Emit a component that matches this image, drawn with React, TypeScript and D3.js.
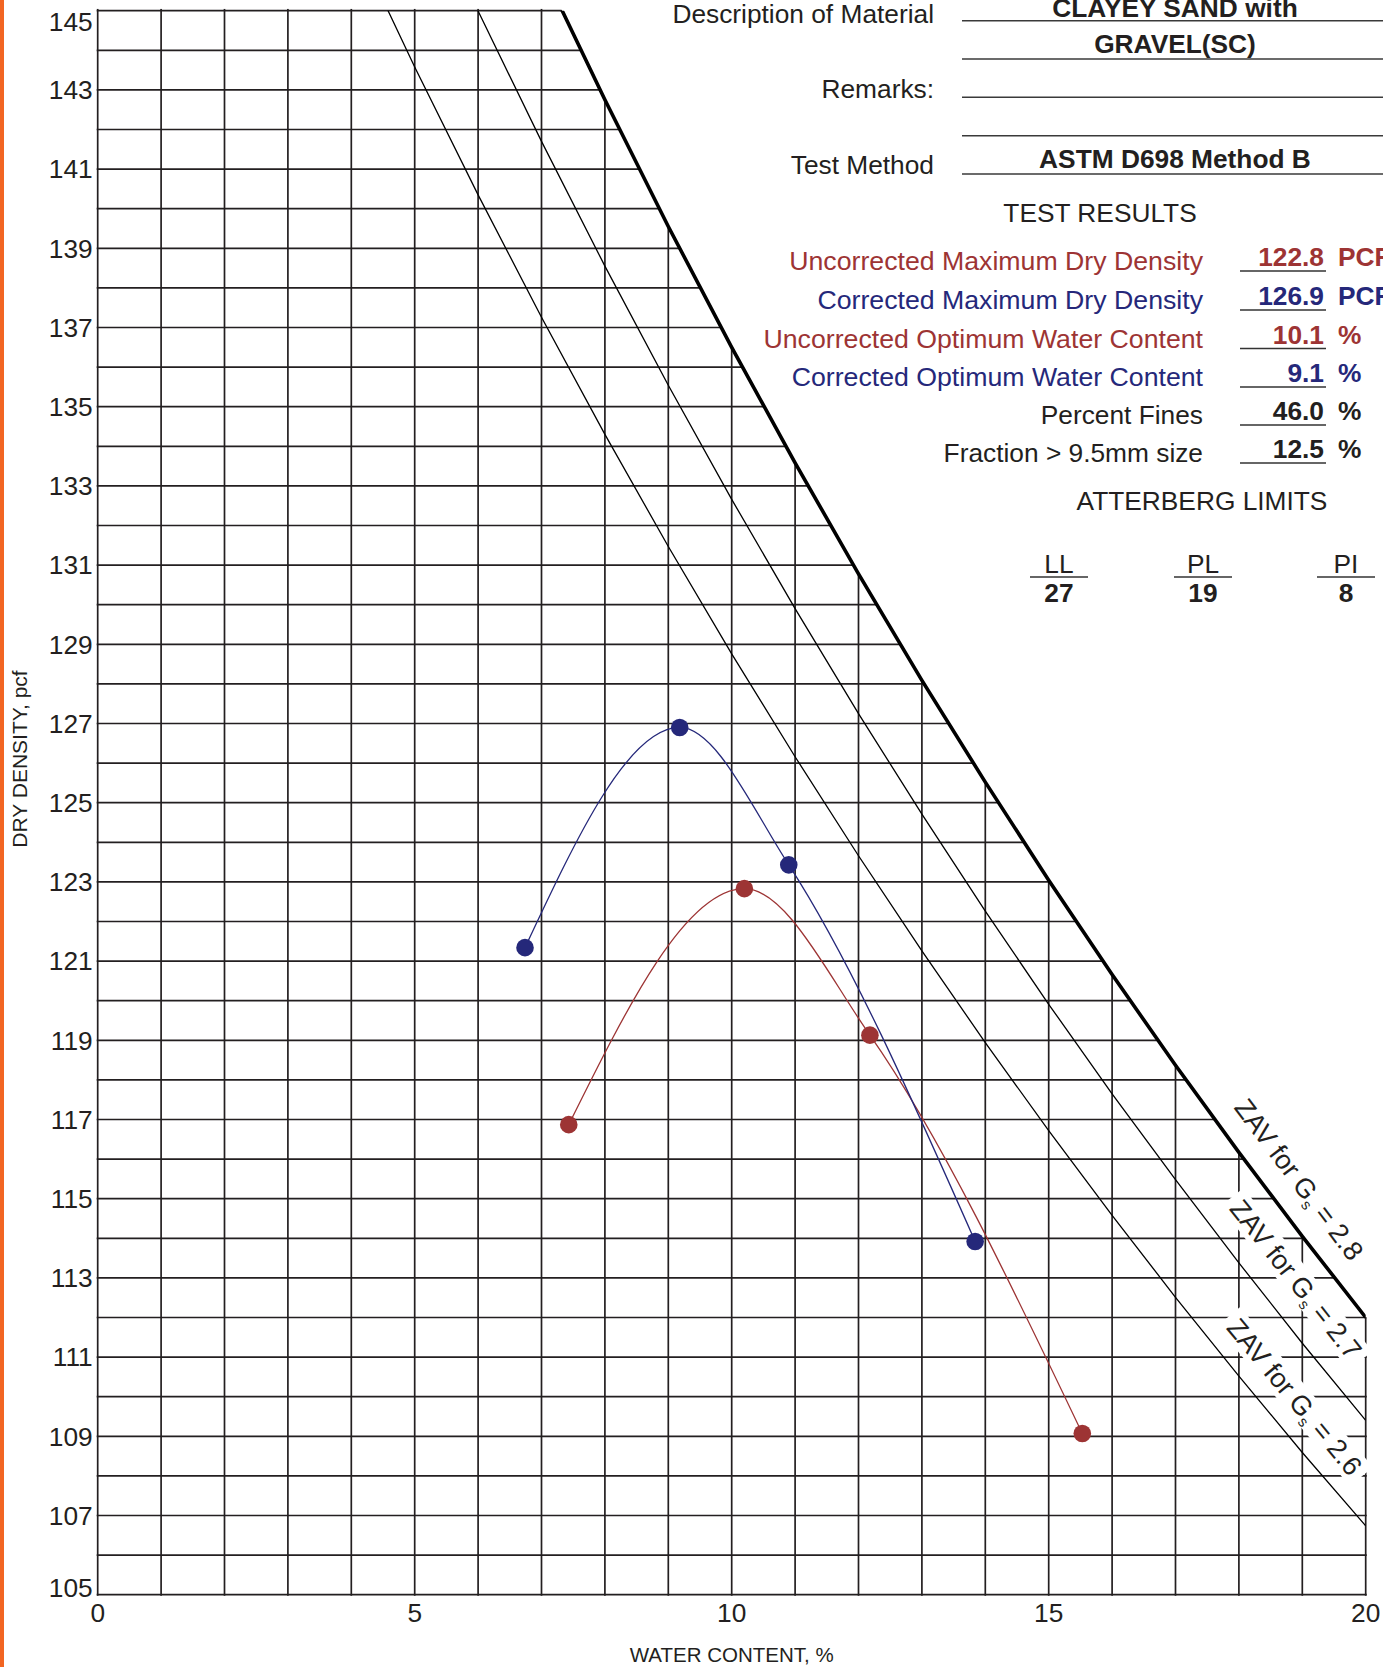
import React from 'react';
import * as d3 from 'd3';

const WIDTH = 1383;
const HEIGHT = 1667;

// ---- axes ----
const X_DOMAIN = [0, 20];
const Y_DOMAIN = [105, 145];
const X_TICK_LABELS = [0, 5, 10, 15, 20];
const Y_TICK_LABELS = [145, 143, 141, 139, 137, 135, 133, 131, 129, 127, 125, 123, 121, 119, 117, 115, 113, 111, 109, 107, 105];
const GRID_X = [0, 1, 2, 3, 4, 5, 6, 7, 8, 9, 10, 11, 12, 13, 14, 15, 16, 17, 18, 19, 20];
const GRID_Y = [105, 106, 107, 108, 109, 110, 111, 112, 113, 114, 115, 116, 117, 118, 119, 120, 121, 122, 123, 124, 125, 126, 127, 128, 129, 130, 131, 132, 133, 134, 135, 136, 137, 138, 139, 140, 141, 142, 143, 144, 145];

// ---- compaction test points ----
const uncorrectedWater = [7.43, 10.2, 12.18, 15.53];
const uncorrectedDensity = [116.87, 122.83, 119.13, 109.07];
const correctedWater = [6.74, 9.18, 10.9, 13.84];
const correctedDensity = [121.34, 126.9, 123.43, 113.92];

// ---- zero air voids curves ----
const zavWater28 = [7, 8, 9, 10, 11, 12, 13, 14, 15, 16, 17, 18, 19, 20];
const zavDensity28 = [146.09, 142.75, 139.55, 136.5, 133.58, 130.78, 128.09, 125.52, 123.04, 120.66, 118.37, 116.17, 114.05, 112.0];
const zavWater27 = [5, 6, 7, 8, 9, 10, 11, 12, 13, 14, 15, 16, 17, 18, 19, 20];
const zavDensity27 = [148.44, 144.99, 141.7, 138.55, 135.54, 132.66, 129.9, 127.25, 124.71, 122.26, 119.91, 117.65, 115.48, 113.38, 111.35, 109.4];
const zavWater26 = [4, 5, 6, 7, 8, 9, 10, 11, 12, 13, 14, 15, 16, 17, 18, 19, 20];
const zavDensity26 = [146.96, 143.58, 140.35, 137.26, 134.3, 131.47, 128.76, 126.16, 123.66, 121.26, 118.94, 116.72, 114.58, 112.51, 110.52, 108.59, 106.74];
const zavGs = ['2.8', '2.7', '2.6'];
const zavLabelWater = [18.55, 18.47, 18.52];

// ---- results panel ----
const descriptionLines = ['CLAYEY SAND with', 'GRAVEL(SC)'];
const testMethod = 'ASTM D698 Method B';
const resultLabels = [
  'Uncorrected Maximum Dry Density',
  'Corrected Maximum Dry Density',
  'Uncorrected Optimum Water Content',
  'Corrected Optimum Water Content',
  'Percent Fines',
  'Fraction > 9.5mm size',
];
const resultValues = ['122.8', '126.9', '10.1', '9.1', '46.0', '12.5'];
const resultUnits = ['PCF', 'PCF', '%', '%', '%', '%'];
const resultKinds = ['unc', 'cor', 'unc', 'cor', 'plain', 'plain'];
const atterbergNames = ['LL', 'PL', 'PI'];
const atterbergValues = ['27', '19', '8'];

const INK = '#231f20';
const RED = '#9d3434';
const BLUE = '#25287a';
const FONT = '"Liberation Sans", Arial, Helvetica, sans-serif';

export default function App() {
  const x = d3.scaleLinear().domain(X_DOMAIN).range([97.7, 1365.7]);
  const y = d3.scaleLinear().domain(Y_DOMAIN).range([1594.7, 10.7]);
  const x0 = x(0), x1 = x(20), yTop = y(145), yBot = y(105);

  const zavSets = [
    { w: zavWater28, g: zavDensity28, width: 3.6 },
    { w: zavWater27, g: zavDensity27, width: 1.3 },
    { w: zavWater26, g: zavDensity26, width: 1.3 },
  ];
  const linePath = d3.line<[number, number]>().x(d => x(d[0])).y(d => y(d[1]));
  const curvePath = d3.line<[number, number]>().x(d => x(d[0])).y(d => y(d[1])).curve(d3.curveMonotoneX);

  // polygon under ZAV 2.8 (grid area)
  const poly: [number, number][] = [[x0 - 2, y(zavDensity28[0])]];
  zavWater28.forEach((w, i) => poly.push([x(w), y(zavDensity28[i])]));
  poly.push([x1 + 2, y(zavDensity28[zavDensity28.length - 1])]);
  poly.push([x1 + 2, yBot + 2]);
  poly.push([x0 - 2, yBot + 2]);
  const polyD = 'M' + poly.map(p => p.join(',')).join('L') + 'Z';

  const labelOffsets = [32, 35, 30];
  const zavLabels = zavSets.map((s, k) => {
    const w = zavLabelWater[k];
    let i = 0;
    while (i < s.w.length - 2 && s.w[i + 1] <= w) i++;
    const t = (w - s.w[i]) / (s.w[i + 1] - s.w[i]);
    const g = s.g[i] + t * (s.g[i + 1] - s.g[i]);
    const px = x(w), py = y(g);
    const ang = Math.atan2(y(s.g[i + 1]) - y(s.g[i]), x(s.w[i + 1]) - x(s.w[i]));
    const off = labelOffsets[k];
    const cx = px + off * Math.sin(ang);
    const cy = py - off * Math.cos(ang);
    return { cx, cy, deg: (ang * 180) / Math.PI, gs: zavGs[k] };
  });

  const unc: [number, number][] = uncorrectedWater.map((w, i) => [w, uncorrectedDensity[i]]);
  const cor: [number, number][] = correctedWater.map((w, i) => [w, correctedDensity[i]]);

  const kindColor = (k: string) => (k === 'unc' ? RED : k === 'cor' ? BLUE : INK);
  const rowBase = [270, 309, 347.5, 386, 424, 462];
  const atterbergX = [1059, 1203, 1346];

  return (
    <svg width={WIDTH} height={HEIGHT} style={{ position: 'absolute', left: 0, top: 0, background: '#fff' }} fontFamily={FONT}>
      <defs>
        <clipPath id="plotRect">
          <rect x={x0 - 2} y={yTop - 2} width={x1 - x0 + 4} height={yBot - yTop + 4} />
        </clipPath>
        <clipPath id="plotExact">
          <rect x={x0} y={yTop} width={x1 - x0} height={yBot - yTop} />
        </clipPath>
        <clipPath id="underZav">
          <path d={polyD} />
        </clipPath>
      </defs>
      <rect x={0} y={0} width={WIDTH} height={HEIGHT} fill="#fff" />
      <rect x={0} y={0} width={4} height={HEIGHT} fill="#f26522" />

      {/* grid */}
      <g clipPath="url(#plotRect)">
        <g clipPath="url(#underZav)" stroke={INK} strokeWidth={1.7}>
          {GRID_X.map(w => (
            <line key={'gx' + w} x1={x(w)} x2={x(w)} y1={yTop - 2} y2={yBot + 1} />
          ))}
          {GRID_Y.map(g => (
            <line key={'gy' + g} x1={x0 - 1} x2={x1 + 1} y1={y(g)} y2={y(g)} />
          ))}
        </g>
      </g>

      {/* label boxes */}
      {zavLabels.map((l, i) => (
        <rect key={'lb' + i} x={-104} y={-15} width={208} height={30} fill="#fff"
          transform={`translate(${l.cx},${l.cy}) rotate(${l.deg})`} />
      ))}

      {/* ZAV lines */}
      <g clipPath="url(#plotExact)" fill="none" stroke="#000">
        {zavSets.map((s, i) => (
          <path key={'zav' + i} d={linePath(s.w.map((w, j) => [w, s.g[j]]) as [number, number][]) || ''} strokeWidth={s.width} strokeLinejoin="round" />
        ))}
      </g>

      {zavLabels.map((l, i) => (
        <text key={'lt' + i} transform={`translate(${l.cx},${l.cy}) rotate(${l.deg})`} textAnchor="middle" dy="0.36em" fontSize={27} fill={INK}>
          ZAV for G<tspan fontSize={15} dy={5}>s</tspan><tspan dy={-5}>{' = ' + l.gs}</tspan>
        </text>
      ))}

      {/* compaction curves */}
      <path d={curvePath(unc) || ''} fill="none" stroke={RED} strokeWidth={1.3} />
      <path d={curvePath(cor) || ''} fill="none" stroke={BLUE} strokeWidth={1.3} />
      {unc.map((d, i) => (
        <circle key={'u' + i} cx={x(d[0])} cy={y(d[1])} r={8.8} fill={RED} />
      ))}
      {cor.map((d, i) => (
        <circle key={'c' + i} cx={x(d[0])} cy={y(d[1])} r={8.8} fill={BLUE} />
      ))}

      {/* axis tick labels */}
      {Y_TICK_LABELS.map(v => {
        const dy = v === 145 ? 20 : v === 105 ? 2 : 9.3;
        return (
          <text key={'yl' + v} x={x0 - 5} y={y(v) + dy} textAnchor="end" fontSize={26.3} fill={INK}>{v}</text>
        );
      })}
      {X_TICK_LABELS.map(v => (
        <text key={'xl' + v} x={x(v)} y={yBot + 27.5} textAnchor="middle" fontSize={26.3} fill={INK}>{v}</text>
      ))}
      <text x={(x0 + x1) / 2} y={1662} textAnchor="middle" fontSize={20.5} fill={INK}>WATER CONTENT, %</text>
      <text transform="translate(27,759) rotate(-90)" textAnchor="middle" fontSize={21} fill={INK}>DRY DENSITY, pcf</text>

      {/* description panel */}
      <g fill={INK} fontSize={26.3}>
        <text x={934} y={22.5} textAnchor="end">Description of Material</text>
        <text x={934} y={98.3} textAnchor="end">Remarks:</text>
        <text x={934} y={174} textAnchor="end">Test Method</text>
        <text x={1175} y={16.5} textAnchor="middle" fontWeight="bold">{descriptionLines[0]}</text>
        <text x={1175} y={53.3} textAnchor="middle" fontWeight="bold">{descriptionLines[1]}</text>
        <text x={1175} y={168.3} textAnchor="middle" fontWeight="bold">{testMethod}</text>
        <text x={1100} y={221.7} textAnchor="middle">TEST RESULTS</text>
        <text x={1202} y={510} textAnchor="middle">ATTERBERG LIMITS</text>
      </g>
      <g stroke="#3a3a3a" strokeWidth={1.6}>
        {[20.7, 59, 97.3, 135.7, 174].map(v => (
          <line key={'dl' + v} x1={962} x2={WIDTH} y1={v} y2={v} />
        ))}
      </g>

      {resultLabels.map((lab, i) => {
        const c = kindColor(resultKinds[i]);
        const b = rowBase[i];
        return (
          <g key={'r' + i}>
            <text x={1203} y={b} textAnchor="end" fill={c} fontSize={kindColor(resultKinds[i]) === INK ? 26.3 : 26.7}>{lab}</text>
            <line x1={1240} x2={1326} y1={b + 1} y2={b + 1} stroke="#333" strokeWidth={1.6} />
            <text x={1324} y={b - 4} textAnchor="end" fill={c} fontWeight="bold" fontSize={26.3}>{resultValues[i]}</text>
            <text x={1338} y={b - 4} fill={c} fontWeight="bold" fontSize={26.3}>{resultUnits[i]}</text>
          </g>
        );
      })}

      {atterbergNames.map((n, i) => (
        <g key={'a' + i} fontSize={26.3} fill={INK}>
          <text x={atterbergX[i]} y={573} textAnchor="middle">{n}</text>
          <line x1={atterbergX[i] - 29} x2={atterbergX[i] + 29} y1={577} y2={577} stroke="#333" strokeWidth={1.6} />
          <text x={atterbergX[i]} y={602} textAnchor="middle" fontWeight="bold">{atterbergValues[i]}</text>
        </g>
      ))}
    </svg>
  );
}
